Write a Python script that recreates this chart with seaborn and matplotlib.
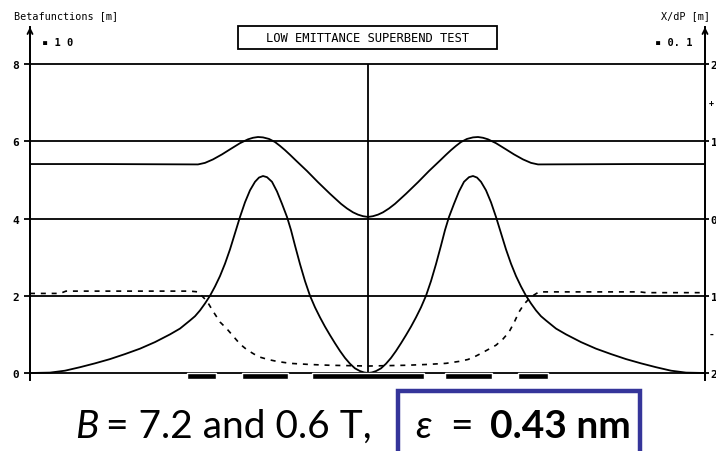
import matplotlib
matplotlib.use("Agg")
import matplotlib.pyplot as plt
import seaborn as sns
from matplotlib.patches import Rectangle

# ---------------- data ----------------
# longitudinal position s [m]
s_beta1 = [0, 1.4, 3.36, 3.5, 3.66, 3.84, 4.0, 4.2, 4.36, 4.46, 4.56, 4.66, 4.78, 4.9,
           5.0, 5.1, 5.2, 5.32, 5.54, 5.76, 6.0, 6.22, 6.34, 6.46, 6.56, 6.66, 6.76,
           6.86, 6.96, 7.06, 7.18, 7.3, 7.52, 7.76, 7.98, 8.2, 8.32, 8.42, 8.52, 8.62,
           8.74, 8.86, 8.96, 9.06, 9.16, 9.32, 9.52, 9.68, 9.86, 10.02, 10.16, 12.12, 13.5]
beta1 = [5.41, 5.41, 5.40, 5.44, 5.53, 5.66, 5.79, 5.95, 6.05, 6.09, 6.11, 6.10, 6.06,
         5.98, 5.88, 5.77, 5.65, 5.50, 5.23, 4.94, 4.64, 4.38, 4.26, 4.16, 4.10, 4.06, 4.04,
         4.06, 4.10, 4.16, 4.26, 4.38, 4.64, 4.94, 5.23, 5.50, 5.65, 5.77, 5.88, 5.98,
         6.06, 6.10, 6.11, 6.09, 6.05, 5.95, 5.79, 5.66, 5.53, 5.44, 5.40, 5.41, 5.41]

s_beta2 = [0, 0.4, 0.7, 1.0, 1.3, 1.6, 1.9, 2.2, 2.5, 2.8, 3.0, 3.2, 3.3, 3.4, 3.5, 3.6,
           3.7, 3.8, 3.9, 4.0, 4.1, 4.2, 4.3, 4.4, 4.5, 4.58, 4.66, 4.74, 4.84, 4.94, 5.04,
           5.14, 5.22, 5.3, 5.4, 5.5, 5.6, 5.7, 5.8, 5.9, 6.0, 6.1, 6.2, 6.3, 6.4, 6.5,
           6.6, 6.68, 6.76,
           6.84, 6.92, 7.02, 7.12, 7.22, 7.32, 7.42, 7.52, 7.62, 7.72, 7.82, 7.92, 8.02,
           8.12, 8.22, 8.3, 8.38, 8.48, 8.58, 8.68, 8.78, 8.86, 8.94, 9.02, 9.12, 9.22,
           9.32, 9.42, 9.52, 9.62, 9.72, 9.82, 9.92, 10.02, 10.12, 10.22, 10.32, 10.52,
           10.72, 11.02, 11.32, 11.62, 11.92, 12.22, 12.52, 12.82, 13.12, 13.5]
beta2 = [0.0, 0.01, 0.06, 0.15, 0.25, 0.36, 0.49, 0.63, 0.80, 1.00, 1.15, 1.36, 1.47,
         1.62, 1.80, 2.00, 2.24, 2.51, 2.83, 3.20, 3.62, 4.04, 4.42, 4.73, 4.95, 5.06,
         5.10, 5.07, 4.95, 4.70, 4.38, 4.04, 3.70, 3.30, 2.82, 2.38, 2.00, 1.70, 1.44,
         1.20, 0.98, 0.77, 0.57, 0.39, 0.24, 0.12, 0.05, 0.015, 0.0,
         0.015, 0.05, 0.12, 0.24, 0.39, 0.57, 0.77, 0.98, 1.20, 1.44, 1.70, 2.00, 2.38,
         2.82, 3.30, 3.70, 4.04, 4.38, 4.70, 4.95, 5.07, 5.10, 5.06, 4.95, 4.73, 4.42,
         4.04, 3.62, 3.20, 2.83, 2.51, 2.24, 2.00, 1.80, 1.62, 1.47, 1.36, 1.15, 1.00,
         0.80, 0.63, 0.49, 0.36, 0.25, 0.15, 0.06, 0.01, 0.0]

# dispersion, right axis units
s_disp = [0, 0.6, 0.72, 3.2, 3.36, 3.54, 3.66, 3.8, 3.94, 4.06, 4.2, 4.34, 4.48, 4.6,
          4.76, 4.94, 5.2, 5.6, 6.0, 6.4, 6.76,
          7.12, 7.52, 7.92, 8.32, 8.58, 8.76, 8.92, 9.04, 9.18, 9.32, 9.46, 9.58, 9.68,
          9.78, 9.88, 9.98, 10.08, 10.18, 12.2, 12.32, 13.5]
disp = [-0.97, -0.97, -0.94, -0.94, -0.95, -1.07, -1.20, -1.34, -1.43, -1.52, -1.625,
        -1.70, -1.755, -1.795, -1.825, -1.85, -1.875, -1.89, -1.90, -1.905, -1.91,
        -1.905, -1.90, -1.89, -1.875, -1.85, -1.825, -1.78, -1.74, -1.69, -1.64, -1.56,
        -1.47, -1.35, -1.21, -1.11, -1.04, -0.99, -0.95, -0.95, -0.96, -0.96]

magnet_start = [3.14, 4.24, 5.64, 8.30, 9.76]
magnet_end = [3.72, 5.16, 7.88, 9.24, 10.36]
center_s = 6.76

left_ticks = [0, 2, 4, 6, 8]
left_labels = ["0", "2", "4", "6", "8"]
right_ticks = [-2, -1, 0, 1, 2]
right_labels = ["2", "1", "0", "1", "2"]

title = "LOW EMITTANCE SUPERBEND TEST"
left_axis_label = "Betafunctions [m]"
right_axis_label = "X/dP [m]"
left_scale = "\u25aa 1 0"
right_scale = "\u25aa 0. 1"

# ---------------- figure ----------------
sns.set_theme(style="white")
plt.rcParams['font.family'] = ['DejaVu Sans Mono', 'DejaVu Sans']
plt.rcParams['text.color'] = 'black'
plt.rcParams['ytick.color'] = 'black'
plt.rcParams['xtick.color'] = 'black'
plt.rcParams['lines.solid_joinstyle'] = 'round'

W, H = 716, 452
fig = plt.figure(figsize=(W / 100, H / 100), dpi=100)


def fx(px):
    return px / W


def fy(py):
    return 1 - py / H


ppu = (374 - 65) / 8.0
ax_bot, ax_top = 381, 28
ylo = -(ax_bot - 374) / ppu
yhi = 8 + (65 - ax_top) / ppu
ax = fig.add_axes([fx(30), fy(ax_bot), (705 - 30) / W, (ax_bot - ax_top) / H])
ax.set_xlim(0, 13.5)
ax.set_ylim(ylo, yhi)
ax2 = ax.twinx()
ax2.set_ylim((ylo - 4) / 2, (yhi - 4) / 2)

for a in (ax, ax2):
    a.set_facecolor('none')
    for side in ('top', 'bottom'):
        a.spines[side].set_visible(False)
    for side in ('left', 'right'):
        a.spines[side].set_color('black')
        a.spines[side].set_linewidth(1.3)
    a.grid(False)
    a.set_xticks([])

lw = 1.3
for y in left_ticks:
    ax.axhline(y, color='black', lw=lw, zorder=1)
ax.vlines(center_s, 0, 8, color='black', lw=lw, zorder=1)

ax.set_yticks(left_ticks, left_labels)
ax.tick_params(axis='y', direction='out', length=4, width=1.3, pad=4,
               labelsize=8, colors='black', left=True)
ax2.set_yticks(right_ticks, right_labels)
ax2.tick_params(axis='y', direction='out', length=3, width=1.3, pad=1,
                labelsize=8, colors='black', right=True)
for lab in ax.get_yticklabels() + ax2.get_yticklabels():
    lab.set_fontweight('bold')

sns.lineplot(x=s_beta1, y=beta1, ax=ax, color='black', lw=1.3,
             estimator=None, sort=False, zorder=3)
sns.lineplot(x=s_beta2, y=beta2, ax=ax, color='black', lw=1.3,
             estimator=None, sort=False, zorder=3)
sns.lineplot(x=s_disp, y=disp, ax=ax2, color='black', lw=1.2,
             estimator=None, sort=False, zorder=3)
ax2.get_lines()[-1].set_dashes((3, 3.5))

widths = [e - s for s, e in zip(magnet_start, magnet_end)]
ax.bar(magnet_start, [-0.16] * len(widths), width=widths, bottom=0,
       align='edge', color='black', zorder=4, clip_on=False)

# axis arrows
for xa in (0, 1):
    ax.annotate('', xy=(xa, 1.0), xytext=(xa, 0.97), xycoords='axes fraction',
                arrowprops=dict(arrowstyle='->', lw=1.3, color='black',
                                mutation_scale=9, shrinkA=0, shrinkB=0))

# header texts
fig.text(fx(14), fy(16), left_axis_label, fontsize=7.3, va='center', ha='left')
fig.text(fx(661), fy(16), right_axis_label, fontsize=7.3, va='center', ha='left')
fig.text(fx(42), fy(43), left_scale, fontsize=7.5, va='center', ha='left',
         fontweight='bold')
fig.text(fx(655), fy(43), right_scale, fontsize=7.5, va='center', ha='left',
         fontweight='bold')
fig.text(fx(709), fy(104), "+", fontsize=6, va='center', ha='left', fontweight='bold')
fig.text(fx(709), fy(335), "-", fontsize=7, va='center', ha='left', fontweight='bold')

fig.patches.append(Rectangle((fx(238), fy(50)), fx(497) - fx(238), fy(27) - fy(50),
                             transform=fig.transFigure, fill=False,
                             edgecolor='black', lw=1.3))
fig.text(fx(367.5), fy(38.5), title, fontsize=8.7, va='center', ha='center')

# bottom annotation
big = ['Lato', 'DejaVu Sans']
fig.text(fx(75), fy(438), "B", fontsize=28, family=big, style='italic',
         va='baseline', ha='left')
fig.text(fx(106), fy(438), "= 7.2 and 0.6 T,", fontsize=28, family=big,
         va='baseline', ha='left')
fig.patches.append(Rectangle((fx(398), fy(470)), fx(640) - fx(398), fy(392) - fy(470),
                             transform=fig.transFigure, fill=False,
                             edgecolor='#35359a', lw=3.2))
fig.text(fx(415), fy(438), "\u03b5", fontsize=28, family=big, style='italic',
         va='baseline', ha='left')
fig.text(fx(450), fy(438), "=", fontsize=28, family=big, va='baseline', ha='left')
fig.text(fx(490), fy(438), "0.43 nm", fontsize=28, family=big, fontweight='bold',
         va='baseline', ha='left')

fig.savefig("out.png", dpi=100)
